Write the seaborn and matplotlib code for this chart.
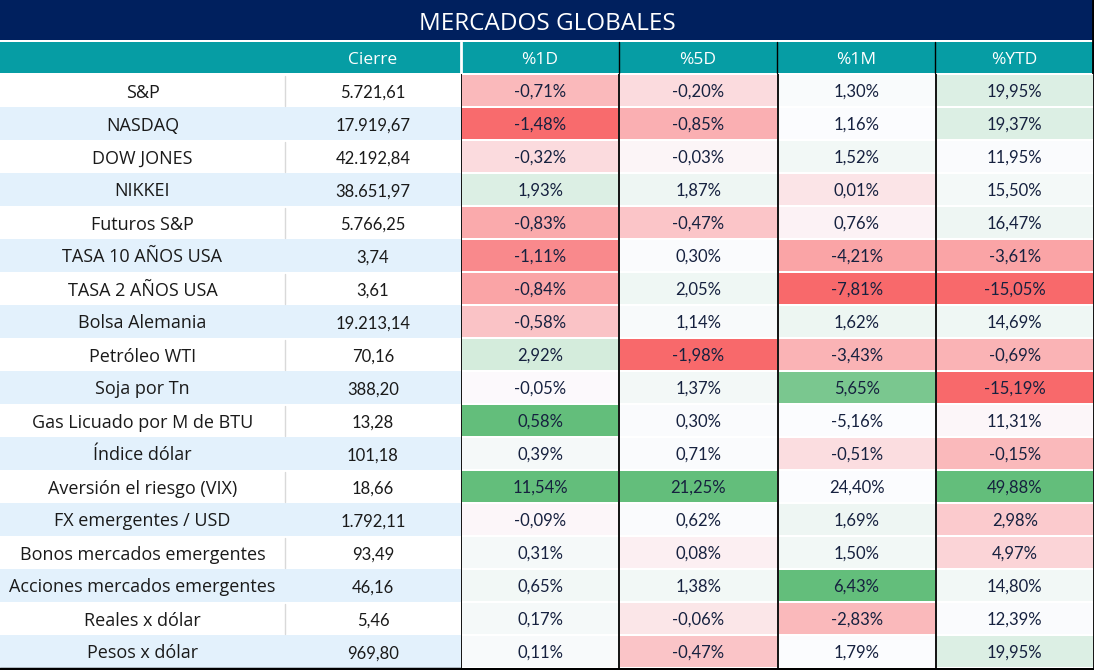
import numpy as np
import pandas as pd
import matplotlib.pyplot as plt
from matplotlib.colors import LinearSegmentedColormap
from matplotlib.patches import Rectangle
import seaborn as sns

# datos de la tabla
titulo = 'MERCADOS GLOBALES'
columnas = ['Cierre', '%1D', '%5D', '%1M', '%YTD']
activos = ['S&P', 'NASDAQ', 'DOW JONES', 'NIKKEI', 'Futuros S&P', 'TASA 10 AÑOS USA',
           'TASA 2 AÑOS USA', 'Bolsa Alemania', 'Petróleo WTI', 'Soja por Tn',
           'Gas Licuado por M de BTU', 'Índice dólar', 'Aversión el riesgo (VIX)',
           'FX emergentes / USD', 'Bonos mercados emergentes', 'Acciones mercados emergentes',
           'Reales x dólar', 'Pesos x dólar']
cierre = ['5.721,61', '17.919,67', '42.192,84', '38.651,97', '5.766,25', '3,74', '3,61',
          '19.213,14', '70,16', '388,20', '13,28', '101,18', '18,66', '1.792,11', '93,49',
          '46,16', '5,46', '969,80']
var_1d = [-0.71, -1.48, -0.32, 1.93, -0.83, -1.11, -0.84, -0.58, 2.92, -0.05, 0.58, 0.39,
          11.54, -0.09, 0.31, 0.65, 0.17, 0.11]
var_5d = [-0.20, -0.85, -0.03, 1.87, -0.47, 0.30, 2.05, 1.14, -1.98, 1.37, 0.30, 0.71,
          21.25, 0.62, 0.08, 1.38, -0.06, -0.47]
var_1m = [1.30, 1.16, 1.52, 0.01, 0.76, -4.21, -7.81, 1.62, -3.43, 5.65, -5.16, -0.51,
          24.40, 1.69, 1.50, 6.43, -2.83, 1.79]
var_ytd = [19.95, 19.37, 11.95, 15.50, 16.47, -3.61, -15.05, 14.69, -0.69, -15.19, 11.31,
           -0.15, 49.88, 2.98, 4.97, 14.80, 12.39, 19.95]
# intensidad del formato condicional (-1 rojo, 0 blanco, 1 verde)
esc_1d = [-0.46, -0.98, -0.22, 0.21, -0.56, -0.78, -0.60, -0.39, 0.26, -0.02, 1.0, 0.04,
          1.0, -0.04, 0.04, 0.07, 0.04, 0.03]
esc_5d = [-0.22, -0.52, -0.05, 0.09, -0.37, 0.01, 0.08, 0.03, -1.0, 0.06, 0.01, 0.01,
          1.0, 0.01, -0.09, 0.07, -0.15, -0.38]
esc_1m = [0.02, 0.0, 0.07, -0.16, -0.07, -0.60, -1.0, 0.10, -0.50, 0.85, 0.0, -0.21,
          0.0, 0.09, 0.07, 1.0, -0.46, 0.0]
esc_ytd = [0.21, 0.21, 0.01, 0.05, 0.09, -0.60, -1.0, 0.08, -0.50, -1.0, -0.04, -0.46,
           1.0, -0.34, -0.27, 0.07, 0.01, 0.21]

W, H = 1094, 670
x_cols = [0, 285, 461, 619, 777, 935, 1094]
y_title, y_head, y_body, alto = 40, 42, 74, 33
navy = '#00205E'
teal = '#069DA4'
celeste = '#E3F1FC'

sns.set_theme(style='white')
plt.rcParams['font.family'] = ['Open Sans', 'DejaVu Sans']

fig = plt.figure(figsize=(W / 100, H / 100), dpi=100)
bg = fig.add_axes([0, 0, 1, 1])
bg.set_xlim(0, W)
bg.set_ylim(H, 0)
bg.axis('off')

# titulo y encabezado
bg.add_patch(Rectangle((0, 0), W, y_title, color=navy, lw=0))
bg.text(W / 2, y_title / 2 + 1, titulo, color='white', fontsize=17.5, ha='center',
        va='center_baseline')
bg.add_patch(Rectangle((0, y_head), W, y_body - y_head - 1, color=teal, lw=0))
for j, col in enumerate(columnas):
    xc = (x_cols[j + 1] + x_cols[j + 2]) / 2
    bg.text(xc, (y_head + y_body) / 2, col, color='white', fontsize=12.5, ha='center',
            va='center_baseline')
bg.plot([x_cols[2], x_cols[2]], [y_head, y_body - 1], color='white', lw=2)
for x in x_cols[3:6]:
    bg.plot([x, x], [y_head, y_body - 1], color='black', lw=1)

# columnas de nombre y cierre
for i, (nombre, c) in enumerate(zip(activos, cierre)):
    y0 = y_body + i * alto
    fondo = 'white' if i % 2 == 0 else celeste
    bg.add_patch(Rectangle((0, y0), x_cols[2], alto, color=fondo, lw=0))
    if i % 2 == 0:
        bg.plot([x_cols[1], x_cols[1]], [y0 + 2, y0 + alto - 1], color='#D9D9D9', lw=1)
    bg.text((x_cols[0] + x_cols[1]) / 2, y0 + alto / 2, nombre, fontsize=13,
            color='#1A1A1A', ha='center', va='center_baseline')
    bg.text((x_cols[1] + x_cols[2]) / 2, y0 + alto / 2 + 0.5, c, fontsize=12,
            color='#1A1A1A', ha='center', va='center_baseline', family=['Lato', 'DejaVu Sans'])

# variaciones porcentuales como heatmap
esc = pd.DataFrame({'%1D': esc_1d, '%5D': esc_5d, '%1M': esc_1m, '%YTD': esc_ytd}, index=activos)
var = pd.DataFrame({'%1D': var_1d, '%5D': var_5d, '%1M': var_1m, '%YTD': var_ytd}, index=activos)
etiquetas = var.apply(lambda s: s.map(lambda v: f'{v:.2f}%'.replace('.', ',')))
cmap = LinearSegmentedColormap.from_list('excel', ['#F8696B', '#FCFCFF', '#63BE7B'])

n = len(activos)
hm = fig.add_axes([x_cols[2] / W, (H - y_body - n * alto) / H,
                   (x_cols[6] - x_cols[2]) / W, n * alto / H])
sns.heatmap(esc, ax=hm, cmap=cmap, vmin=-1, vmax=1, cbar=False, annot=etiquetas, fmt='',
            linewidths=1.4, linecolor='white',
            annot_kws={'fontsize': 12, 'color': '#16213F', 'va': 'center_baseline',
                       'family': ['Lato', 'DejaVu Sans']})
hm.set_xticks([])
hm.set_yticks([])
hm.set_xlabel('')
hm.set_ylabel('')
for x in range(0, 5):
    hm.axvline(x, color='black', lw=1.3)

# borde exterior
bg.plot([0, W], [H - 1, H - 1], color='black', lw=2.5)
bg.plot([W - 1, W - 1], [0, H], color='black', lw=2)

fig.savefig('out.png', dpi=100)
